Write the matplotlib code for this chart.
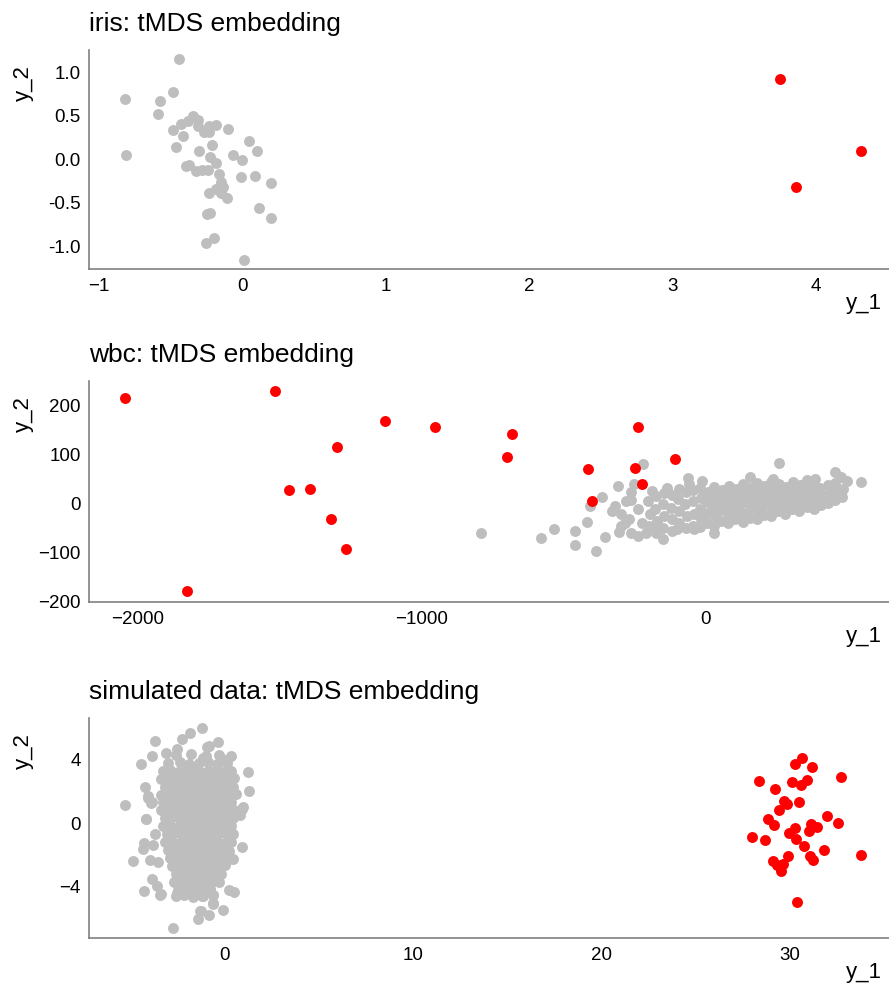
import numpy as np
from matplotlib import pyplot as plt

plt.rcParams['font.family'] = ['Liberation Sans', 'DejaVu Sans']

GRAY = '#bebebe'
RED = '#ff0000'

# iris: inliers / outliers
iris_gray = [
    (-0.44, 1.16), (-0.815, 0.70), (-0.57, 0.67), (-0.48, 0.77), (-0.59, 0.52),
    (-0.81, 0.045), (-0.485, 0.34), (-0.43, 0.41), (-0.38, 0.44), (-0.34, 0.50),
    (-0.31, 0.45), (-0.31, 0.38), (-0.27, 0.31), (-0.23, 0.31), (-0.23, 0.38),
    (-0.18, 0.39), (-0.10, 0.35), (-0.415, 0.27), (-0.46, 0.14), (-0.30, 0.09),
    (-0.21, 0.16), (0.05, 0.21), (0.10, 0.09), (-0.065, 0.055), (0.00, -0.01),
    (-0.225, 0.03), (-0.18, -0.04), (-0.395, -0.08), (-0.37, -0.07), (-0.325, -0.14),
    (-0.28, -0.125), (-0.24, -0.12), (-0.16, -0.17), (-0.01, -0.20), (0.09, -0.19),
    (0.20, -0.27), (-0.145, -0.26), (-0.135, -0.325), (-0.18, -0.34), (-0.23, -0.39),
    (-0.145, -0.39), (-0.105, -0.45), (-0.245, -0.63), (-0.225, -0.62), (0.12, -0.56),
    (0.20, -0.675), (-0.25, -0.965), (-0.20, -0.91), (0.01, -1.16),
]
iris_red = [(3.75, 0.925), (3.86, -0.32), (4.31, 0.10)]

# wbc
wbc_red = [
    (-2045, 215), (-1827, -178), (-1516, 230), (-1465, 28), (-1391, 31),
    (-1296, 116), (-1320, -32), (-1267, -93), (-1129, 169), (-953, 157),
    (-681, 142), (-700, 95), (-414, 70), (-402, 5), (-239, 157),
    (-250, 73), (-226, 41), (-107, 91),
]
wbc_gray = [
    # scattered left part
    (-790, -59), (-579, -70), (-535, -51), (-462, -56), (-459, -84), (-420, -38),
    (-386, -97), (-356, -68), (-364, 13), (-407, -5), (-305, -58), (-332, -14),
    (-311, 37), (-262, 25), (-252, 41), (-223, 82), (-189, 27), (-138, 33),
    (-150, -71), (-262, -59), (-238, -65), (-285, -39), (-209, -59), (-171, -51),
    (-101, -51), (-42, -51), (27, -59), (-62, 52), (-60, 41), (-13, 47),
    (256, 83), (155, 54), (235, 50), (454, 65), (474, 55), (498, 46), (546, 45), (384, 51),
    (-262, 7), (-300, -20), (-280, 5), (-240, -10), (-225, -40), (-300, -45),
    (-270, -30), (-320, -5),
    # dense band
    (-200, -45), (-198, -20), (-203, 5),
    (-176, -60), (-173, -35), (-178, -10), (-174, 15),
    (-151, -50), (-148, -25), (-152, 0), (-149, 22),
    (-121, -55), (-118, -30), (-123, -8), (-119, 18),
    (-96, -40), (-93, -15), (-97, 10), (-94, 30),
    (-71, -50), (-68, -25), (-72, 0), (-69, 25),
    (-46, -45), (-43, -20), (-47, 5), (-44, 28),
    (-21, -48), (-18, -30), (-22, -10), (-19, 12), (-20, 32),
    (4, -40), (7, -18), (3, 3), (6, 24),
    (29, -45), (32, -25), (28, -5), (31, 15), (30, 35),
    (54, -35), (57, -12), (53, 8), (56, 28),
    (79, -40), (82, -22), (78, -2), (81, 18), (80, 36),
    (104, -30), (107, -10), (103, 10), (106, 30),
    (129, -38), (132, -18), (128, 2), (131, 22), (130, 40),
    (154, -28), (157, -8), (153, 12), (156, 32),
    (179, -32), (182, -15), (178, 5), (181, 25), (180, 42),
    (204, -22), (207, -3), (203, 17), (206, 36),
    (229, -25), (232, -8), (228, 10), (231, 28), (230, 45),
    (254, -15), (257, 4), (253, 22), (256, 40),
    (279, -20), (282, -2), (278, 16), (281, 35),
    (304, -10), (307, 8), (303, 26), (306, 44),
    (329, -14), (332, 4), (328, 20), (331, 38),
    (354, -6), (357, 12), (353, 30), (356, 48),
    (379, -10), (382, 6), (378, 24), (381, 42),
    (404, -2), (407, 15), (403, 33),
    (429, 2), (432, 20), (428, 38),
    (454, 8), (457, 25), (453, 42),
    (479, 14), (482, 30),
]

# simulated data
sim_red = [
    (30.64, 4.12), (30.29, 3.75), (31.16, 3.54), (32.71, 2.93), (28.36, 2.67),
    (30.09, 2.57), (30.57, 2.40), (30.93, 2.69), (29.21, 2.13), (29.70, 1.39),
    (29.83, 1.22), (30.47, 1.30), (29.42, 0.84), (28.85, 0.25), (31.99, 0.46),
    (32.55, 0.02), (29.16, -0.15), (30.29, -0.32), (31.10, -0.04), (31.46, -0.25),
    (31.01, -0.53), (29.95, -0.61), (30.33, -1.01), (27.97, -0.89), (28.69, -1.07),
    (30.73, -1.43), (31.79, -1.69), (33.78, -2.05), (29.92, -2.11), (31.09, -2.07),
    (31.25, -2.32), (29.08, -2.42), (29.30, -2.68), (29.65, -2.57), (29.54, -3.05),
    (30.36, -4.99),
]
sim_gray = [
    # edge points
    (-1.24, 6.02), (-1.86, 5.68), (-2.27, 5.33), (-3.70, 5.20), (-0.39, 5.09),
    (-0.94, 4.80), (-2.56, 4.67), (-3.15, 4.40), (-3.89, 4.20), (-4.48, 3.70),
    (0.31, 4.23), (-0.17, 4.04), (-1.18, 4.10), (1.21, 3.20), (1.25, 2.04),
    (-4.25, 2.27), (-4.11, 1.68), (-5.30, 1.13), (-3.89, 1.32), (0.89, 0.90),
    (0.80, 0.52), (-4.21, 0.23), (-3.72, -0.68), (-4.30, -1.24), (-4.37, -1.62),
    (-3.80, -1.39), (0.91, -1.52), (-4.90, -2.42), (-4.00, -2.32), (-3.57, -2.49),
    (0.44, -2.28), (-3.87, -3.52), (-3.63, -4.00), (-4.28, -4.30), (-3.42, -4.50),
    (-2.53, -4.41), (-0.65, -4.55), (-1.18, -4.59), (0.20, -4.24), (0.48, -4.38),
    (-0.63, -5.10), (-0.09, -5.47), (-1.26, -5.56), (-0.86, -5.79), (-1.44, -6.04),
    (-2.74, -6.66), (-0.87, 4.88), (-3.93, 1.26), (-4.07, 1.58), (-4.20, 0.27),
    (0.94, 0.99), (-1.33, -5.58), (-0.62, -5.05), (-0.62, -4.53), (-3.45, -4.53),
    # dense core
    (-2.6, 4.3), (-1.8, 4.35), (-1.0, 4.25), (-0.3, 4.3),
    (-3.0, 3.8), (-2.4, 3.85), (-1.9, 3.75), (-1.4, 3.8), (-0.9, 3.85), (-0.4, 3.75), (0.1, 3.8),
    (-3.3, 3.3), (-2.9, 3.35), (-2.5, 3.25), (-2.1, 3.3), (-1.7, 3.35), (-1.3, 3.25),
    (-0.9, 3.3), (-0.5, 3.35), (-0.1, 3.25), (0.3, 3.3),
    (-3.4, 2.8), (-3.0, 2.85), (-2.6, 2.75), (-2.2, 2.8), (-1.8, 2.85), (-1.4, 2.75),
    (-1.0, 2.8), (-0.6, 2.85), (-0.2, 2.75), (0.2, 2.8), (0.5, 2.85),
    (-3.2, 2.3), (-2.8, 2.35), (-2.4, 2.25), (-2.0, 2.3), (-1.6, 2.35), (-1.2, 2.25),
    (-0.8, 2.3), (-0.4, 2.35), (0.0, 2.25), (0.4, 2.3),
    (-3.4, 1.8), (-3.0, 1.85), (-2.6, 1.75), (-2.2, 1.8), (-1.8, 1.85), (-1.4, 1.75),
    (-1.0, 1.8), (-0.6, 1.85), (-0.2, 1.75), (0.2, 1.8), (0.6, 1.85),
    (-3.3, 1.3), (-2.9, 1.35), (-2.5, 1.25), (-2.1, 1.3), (-1.7, 1.35), (-1.3, 1.25),
    (-0.9, 1.3), (-0.5, 1.35), (-0.1, 1.25), (0.3, 1.3),
    (-3.4, 0.8), (-3.0, 0.85), (-2.6, 0.75), (-2.2, 0.8), (-1.8, 0.85), (-1.4, 0.75),
    (-1.0, 0.8), (-0.6, 0.85), (-0.2, 0.75), (0.2, 0.8), (0.5, 0.85),
    (-3.2, 0.3), (-2.8, 0.35), (-2.4, 0.25), (-2.0, 0.3), (-1.6, 0.35), (-1.2, 0.25),
    (-0.8, 0.3), (-0.4, 0.35), (0.0, 0.25), (0.4, 0.3),
    (-3.3, -0.2), (-2.9, -0.15), (-2.5, -0.25), (-2.1, -0.2), (-1.7, -0.15), (-1.3, -0.25),
    (-0.9, -0.2), (-0.5, -0.15), (-0.1, -0.25), (0.3, -0.2),
    (-3.1, -0.7), (-2.7, -0.65), (-2.3, -0.75), (-1.9, -0.7), (-1.5, -0.65), (-1.1, -0.75),
    (-0.7, -0.7), (-0.3, -0.65), (0.1, -0.75), (0.45, -0.7),
    (-3.2, -1.2), (-2.8, -1.15), (-2.4, -1.25), (-2.0, -1.2), (-1.6, -1.15), (-1.2, -1.25),
    (-0.8, -1.2), (-0.4, -1.15), (0.0, -1.25), (0.3, -1.2),
    (-3.0, -1.7), (-2.6, -1.65), (-2.2, -1.75), (-1.8, -1.7), (-1.4, -1.65), (-1.0, -1.75),
    (-0.6, -1.7), (-0.2, -1.65), (0.2, -1.75),
    (-2.9, -2.2), (-2.5, -2.15), (-2.1, -2.25), (-1.7, -2.2), (-1.3, -2.15), (-0.9, -2.25),
    (-0.5, -2.2), (-0.1, -2.15), (0.2, -2.25),
    (-2.8, -2.7), (-2.4, -2.65), (-2.0, -2.75), (-1.6, -2.7), (-1.2, -2.65), (-0.8, -2.75),
    (-0.4, -2.7), (0.0, -2.65),
    (-2.6, -3.2), (-2.2, -3.15), (-1.8, -3.25), (-1.4, -3.2), (-1.0, -3.15), (-0.6, -3.25),
    (-0.2, -3.2),
    (-2.7, -3.7), (-2.3, -3.65), (-1.9, -3.75), (-1.5, -3.7), (-1.1, -3.65), (-0.7, -3.75),
    (-0.3, -3.7),
    (-2.5, -4.2), (-2.0, -4.15), (-1.6, -4.25), (-1.2, -4.2), (-0.8, -4.15),
    (-2.6, -4.6), (-2.2, -4.55), (-1.7, -4.65), (-1.2, -4.6),
]

panels = [
    ('iris: tMDS embedding', iris_gray, iris_red, (-1.068, 4.507), (-1.265, 1.26),
     [-1, 0, 1, 2, 3, 4], [-1.0, -0.5, 0.0, 0.5, 1.0], [50, 269]),
    ('wbc: tMDS embedding', wbc_gray, wbc_red, (-2170, 644), (-198, 250),
     [-2000, -1000, 0], [-200, -100, 0, 100, 200], [381, 602]),
    ('simulated data: tMDS embedding', sim_gray, sim_red, (-7.22, 35.26), (-7.26, 6.63),
     [0, 10, 20, 30], [-4, 0, 4], [718, 938]),
]

W, H = 889, 990
fig = plt.figure(figsize=(W / 100, H / 100), dpi=100)

for title, gray, red, xlim, ylim, xt, yt, (top, bot) in panels:
    ax = fig.add_axes([89 / W, 1 - bot / H, 800 / W, (bot - top) / H])
    g = np.array(gray)
    r = np.array(red)
    ax.scatter(g[:, 0], g[:, 1], s=62, color=GRAY, linewidths=0, zorder=2)
    ax.scatter(r[:, 0], r[:, 1], s=62, color=RED, linewidths=0, zorder=3)
    ax.set_xlim(*xlim)
    ax.set_ylim(*ylim)
    ax.set_xticks(xt)
    ax.set_yticks(yt)
    if title.startswith('iris'):
        ax.set_yticklabels(['%.1f' % v for v in yt])
    for side in ['top', 'right']:
        ax.spines[side].set_visible(False)
    for side in ['left', 'bottom']:
        ax.spines[side].set_color('#808080')
        ax.spines[side].set_linewidth(1.2)
    ax.tick_params(length=0, labelsize=13.5)
    ax.tick_params(axis='x', pad=6.5)
    ax.tick_params(axis='y', pad=5.8)
    ax.annotate(title, (0, 1), xycoords='axes fraction', xytext=(0, 14),
                textcoords='offset points', ha='left', va='baseline', fontsize=19)
    ax.annotate('y_1', (1, 0), xycoords='axes fraction', xytext=(-5, -25),
                textcoords='offset points', ha='right', va='center', fontsize=16)
    ax.annotate('y_2', (0, 1), xycoords='axes fraction', xytext=(-47, -24),
                textcoords='offset points', ha='center', va='center', fontsize=16,
                rotation=90)

fig.savefig('out.png', dpi=100)
